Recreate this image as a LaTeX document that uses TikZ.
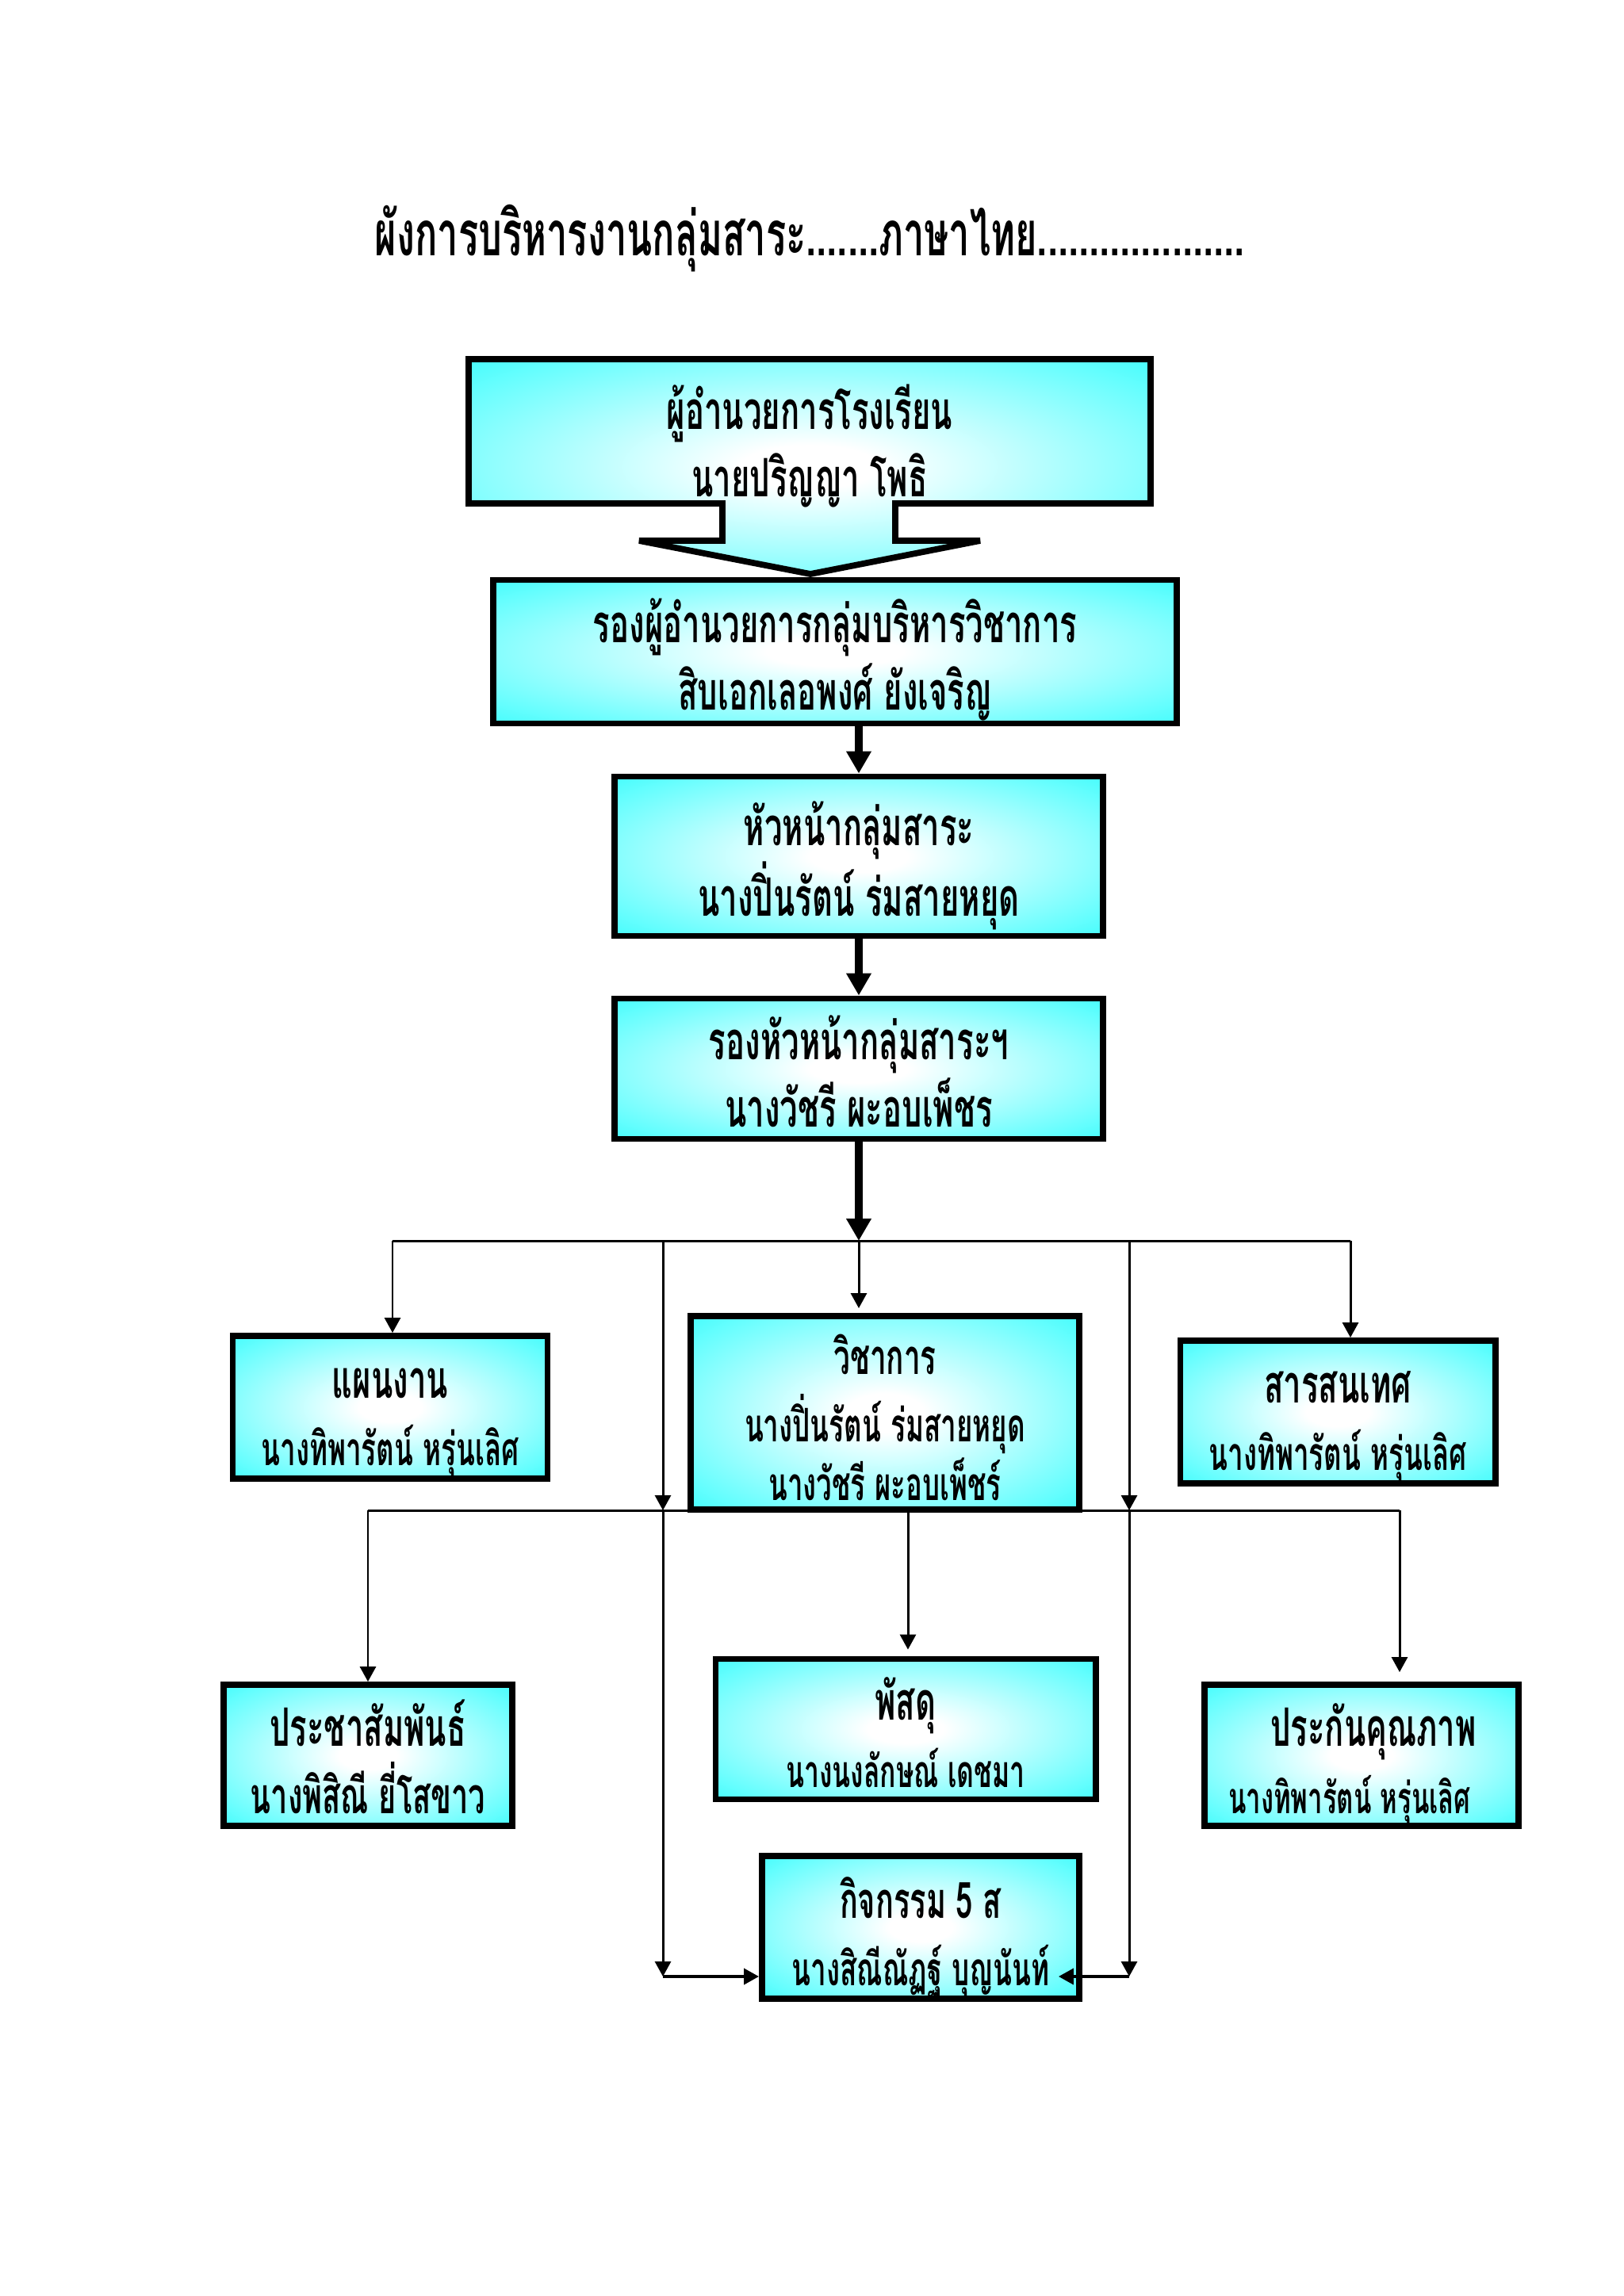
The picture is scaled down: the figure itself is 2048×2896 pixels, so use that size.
\documentclass[tikz,border=0pt]{standalone}
\usepackage{fontspec}
\usepackage{tikz}
\usetikzlibrary{arrows.meta,positioning}
\newfontfamily\thaifont[Script=Thai,FakeStretch=0.6]{Loma}
\definecolor{boxcyan}{RGB}{42,253,253}
\pgfdeclareradialshading{boxglow}{\pgfpoint{0bp}{0bp}}{color(0bp)=(white); color(5bp)=(white); color(40bp)=(boxcyan); color(50bp)=(boxcyan)}
\newcommand\topgap{\rule{0pt}{24.6pt}}
\newcommand\botgap{\rule[-7pt]{0pt}{7pt}}
\newcommand\smaller[1]{\fontsize{#1}{24}\selectfont}

\begin{document}
\begin{tikzpicture}[x=0.01cm,y=-0.01cm,
    every node/.style={font=\thaifont\bfseries\fontsize{19}{24}\selectfont},
    orgbox/.style={draw,line width=2.2pt,shading=boxglow,align=center,inner xsep=0pt,inner ysep=-0.25cm},
    thinline/.style={line width=0.85pt},
    thinarrow/.style={line width=0.85pt,-{Triangle[width=0.2cm,length=0.19cm]}},
    thickarrow/.style={line width=2.8pt,-{Triangle[width=0.3cm,length=0.28cm]}}]
  \useasboundingbox[fill=white] (0,0) rectangle (2048,2896);

  \node (title) at (1021,301) {\fontsize{22.3}{28}\selectfont ผังการบริหารงานกลุ่มสาระ.......ภาษาไทย....................};

  % director box with its block arrow
  \draw[line width=2.2pt,shading=boxglow]
    (591,453) -- (1451,453) -- (1451,635) -- (1129,635) -- (1129,682) -- (1236,682)
    -- (1022,724) -- (806,682) -- (911,682) -- (911,635) -- (591,635) -- cycle;
  \node[align=center] (director) at (1021,553) {\topgap ผู้อำนวยการโรงเรียน\\นายปริญญา โพธิ\botgap};

  \node[orgbox,minimum width=8.61cm,minimum height=1.81cm] (vicedir) at (1053,822)
    {\topgap รองผู้อำนวยการกลุ่มบริหารวิชาการ\\สิบเอกเลอพงศ์ ยังเจริญ\botgap};
  \node[orgbox,minimum width=6.15cm,minimum height=2.01cm] (head) at (1083,1080)
    {\topgap หัวหน้ากลุ่มสาระ\\นางปิ่นรัตน์ ร่มสายหยุด\botgap};
  \node[orgbox,minimum width=6.15cm,minimum height=1.77cm] (vicehead) at (1083,1348)
    {\topgap รองหัวหน้ากลุ่มสาระฯ\\นางวัชรี ผะอบเพ็ชร\botgap};

  \node[orgbox,minimum width=3.97cm,minimum height=1.80cm] (plan) at (492,1775)
    {\topgap แผนงาน\\{\smaller{16.6}นางทิพารัตน์ หรุ่นเลิศ}\botgap};
  \node[orgbox,minimum width=4.90cm,minimum height=2.44cm] (academic) at (1116,1782)
    {\topgap{\smaller{17.5}วิชาการ}\\{\smaller{16.6}นางปิ่นรัตน์ ร่มสายหยุด}\\[-3pt]{\smaller{16.5}นางวัชรี ผะอบเพ็ชร์}\botgap};
  \node[orgbox,minimum width=3.97cm,minimum height=1.80cm] (info) at (1687,1781)
    {\topgap สารสนเทศ\\{\smaller{16.6}นางทิพารัตน์ หรุ่นเลิศ}\botgap};

  \node[orgbox,minimum width=3.64cm,minimum height=1.78cm] (pr) at (464,2214)
    {\topgap ประชาสัมพันธ์\\{\smaller{18}นางพิสิณี ยี่โสขาว}\botgap};
  \node[orgbox,minimum width=4.79cm,minimum height=1.77cm] (supply) at (1142,2181)
    {\topgap พัสดุ\\{\smaller{16}นางนงลักษณ์ เดชมา}\botgap};
  \node[orgbox,minimum width=3.96cm,minimum height=1.78cm] (quality) at (1717,2214)
    {\topgap\hspace{0.3cm}ประกันคุณภาพ\\{\smaller{15.6}นางทิพารัตน์ หรุ่นเลิศ}\hspace{0.3cm}\botgap};
  \node[orgbox,minimum width=4.00cm,minimum height=1.80cm] (fives) at (1161,2431)
    {\topgap{\smaller{18}กิจกรรม 5 ส}\\{\smaller{16.6}นางสิณีณัฏฐ์ บุญนันท์}\botgap};

  % bus points
  \coordinate (busA) at (1083,1565);
  \coordinate (busAL) at (495,1565);
  \coordinate (busAR) at (1703,1565);
  \coordinate (busB) at (1145,1905);
  \coordinate (busBL) at (464,1905);
  \coordinate (busBR) at (1765,1905);
  \coordinate (railL) at (836,1565);
  \coordinate (railR) at (1424,1565);
  \coordinate (railLend) at (836,2493);
  \coordinate (railRend) at (1424,2493);

  \draw[thickarrow] (vicedir.south -| head.north) -- (head.north);
  \draw[thickarrow] (head.south) -- (vicehead.north);
  \draw[thickarrow] (vicehead.south) -- (busA);

  \draw[thinline] (busAL) -- (busAR);
  \draw[thinarrow] (busAL) -- (busAL |- plan.north);
  \draw[thinarrow,shorten >=0.06cm] (busA) -- (busA |- academic.north);
  \draw[thinarrow] (busAR) -- (busAR |- info.north);

  \draw[thinline] (busBL) -- (busBR);
  \draw[thinarrow] (busBL) -- (pr.north);
  \draw[thinarrow,shorten >=0.08cm] (busB) -- (busB |- supply.north);
  \draw[thinarrow,shorten >=0.12cm] (busBR) -- (busBR |- quality.north);

  \draw[thinarrow] (railL) -- (railL |- busB);
  \draw[thinarrow] (railR) -- (railR |- busB);
  \draw[thinarrow] (railL |- busB) -- (railLend);
  \draw[thinarrow] (railR |- busB) -- (railRend);
  \draw[thinarrow,line width=1.1pt] (railLend) -- (railLend -| fives.west);
  \draw[thinarrow,line width=1.1pt] (railRend) -- ([xshift=-0.3cm]railRend -| fives.east);
\end{tikzpicture}
\end{document}
